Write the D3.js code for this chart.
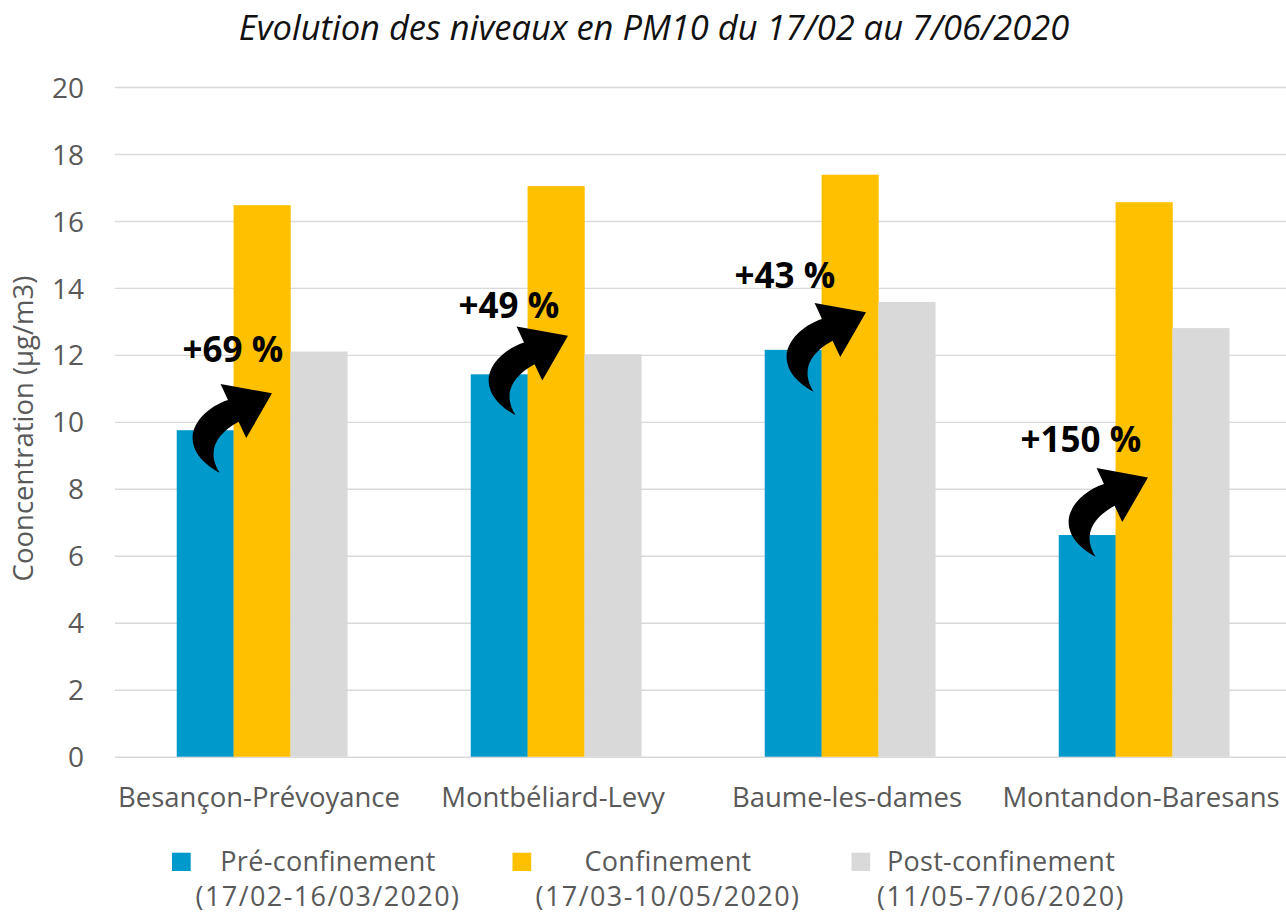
<!DOCTYPE html>
<html lang="fr">
<head>
<meta charset="utf-8">
<script src="https://cdn.jsdelivr.net/npm/d3@7"></script>
<style>
  html, body { margin: 0; padding: 0; background: #fff; }
  svg { display: block; font-family: "Open Sans", "DejaVu Sans", sans-serif; }
</style>
</head>
<body>
<svg id="chart" width="1286" height="913"></svg>
<script>
// Stations de mesure
const sites = ["Besançon-Prévoyance", "Montbéliard-Levy", "Baume-les-dames", "Montandon-Baresans"];

// Moyennes PM10 (µg/m3) par période
const preConfinement  = [9.75, 11.42, 12.15, 6.62];
const confinement     = [16.47, 17.04, 17.38, 16.56];
const postConfinement = [12.1, 12.02, 13.58, 12.8];

// Périodes (légende sur deux lignes)
const seriesNames  = ["Pré-confinement", "Confinement", "Post-confinement"];
const seriesDates  = ["(17/02-16/03/2020)", "(17/03-10/05/2020)", "(11/05-7/06/2020)"];
const seriesColors = ["#0099cc", "#ffc000", "#d9d9d9"];

const yTicks = [0, 2, 4, 6, 8, 10, 12, 14, 16, 18, 20];

const title = "Evolution des niveaux en PM10 du 17/02 au 7/06/2020";
const yTitle = "Cooncentration (µg/m3)";

// Placement des flèches de variation : ancrage de la queue par rapport au
// bord droit de la barre "pré-confinement" (px) et à sa valeur (µg/m3),
// puis décalage du libellé par rapport à la queue (px).
const arrowLayout = [
  { ax: -14, av: -1.27, tx: -37, ty: -111 },
  { ax: -12, av: -1.22, tx: -57, ty: -97 },
  { ax: -8,  av: -1.25, tx: -79, ty: -104 },
  { ax: -20, av: -0.65, tx: -75, ty: -105 }
];

const values = [preConfinement, confinement, postConfinement];
const rows = sites.map((s, i) => ({ site: s, vals: values.map(v => v[i]) }));

const svg = d3.select("#chart");
const W = 1286;

const x0 = d3.scaleBand().domain(sites).range([115, 1291])
  .paddingInner(0.42).paddingOuter(0.21);
const x1 = d3.scaleBand().domain(d3.range(seriesNames.length)).range([0, x0.bandwidth()]);
const y = d3.scaleLinear().domain([0, 20]).range([756.7, 87]);

// Quadrillage horizontal
const grid = svg.append("g")
  .attr("transform", "translate(115,0)")
  .call(d3.axisLeft(y).tickValues(yTicks).tickSize(-(W - 115)).tickFormat(""));
grid.select(".domain").remove();
grid.selectAll(".tick line").attr("stroke", "#d9d9d9").attr("stroke-width", 1.4);

// Graduations de l'axe Y
const yAxis = svg.append("g")
  .attr("transform", "translate(84,0)")
  .call(d3.axisLeft(y).tickValues(yTicks).tickSize(0).tickPadding(0));
yAxis.select(".domain").remove();
yAxis.selectAll(".tick text")
  .attr("font-family", "'Open Sans', sans-serif")
  .attr("font-size", 28)
  .attr("fill", "#595959")
  .attr("dy", "0.36em");

// Barres
const groups = svg.append("g").selectAll("g")
  .data(rows).join("g")
  .attr("transform", d => `translate(${x0(d.site)},0)`);
groups.selectAll("rect")
  .data(d => d.vals.map((v, k) => ({ v, k })))
  .join("rect")
  .attr("x", d => x1(d.k))
  .attr("width", x1.bandwidth() + 0.3)
  .attr("y", d => y(d.v))
  .attr("height", d => y(0) - y(d.v))
  .attr("fill", d => seriesColors[d.k]);

// Axe X (libellés des stations)
const xAxis = svg.append("g")
  .attr("transform", `translate(0,${y(0)})`)
  .call(d3.axisBottom(x0).tickSize(0).tickPadding(0));
xAxis.select(".domain").remove();
xAxis.selectAll(".tick text")
  .attr("font-family", "'Open Sans', sans-serif")
  .attr("font-size", 27.5)
  .attr("fill", "#595959")
  .attr("dy", null)
  .attr("y", 50)
  .attr("dx", -3);

// Flèches et pourcentages de hausse pendant le confinement
const arrowPath = "M0,0 C-15,-8 -27,-20 -27,-35 C-27,-50 -12,-66 8.4,-72.7 " +
  "L1,-88.7 L52.4,-79.4 L26.7,-34.7 L19,-51 C8,-45 -5,-35 -6,-20 C-6.5,-12 -3,-5 0,0 Z";
const ann = svg.append("g");
rows.forEach((d, i) => {
  const L = arrowLayout[i];
  const preRight = x0(d.site) + x1(0) + x1.bandwidth();
  const tx = preRight + L.ax;
  const ty = y(d.vals[0] + L.av);
  ann.append("path")
    .attr("d", arrowPath)
    .attr("transform", `translate(${tx},${ty})`)
    .attr("fill", "#000");
  const pct = Math.round((d.vals[1] / d.vals[0] - 1) * 100);
  ann.append("text")
    .attr("x", tx + L.tx)
    .attr("y", ty + L.ty)
    .attr("font-family", "'Open Sans', sans-serif")
    .attr("font-weight", 700)
    .attr("font-size", 35)
    .attr("fill", "#000")
    .text(`+${pct} %`);
});

// Titre
svg.append("text")
  .attr("x", 654).attr("y", 40)
  .attr("text-anchor", "middle")
  .attr("font-style", "italic")
  .attr("font-size", 34.5)
  .attr("fill", "#111")
  .text(title);

// Titre de l'axe Y
svg.append("text")
  .attr("transform", "translate(33,428.5) rotate(-90)")
  .attr("text-anchor", "middle")
  .attr("font-size", 27.5)
  .attr("fill", "#595959")
  .text(yTitle);

// Légende (libellé et période sur deux lignes)
const legendSquareX = [172, 512.5, 851.5];
const legendTextX = [328, 668, 1001];
const legend = svg.append("g");
seriesNames.forEach((name, k) => {
  legend.append("rect")
    .attr("x", legendSquareX[k]).attr("y", 852.7)
    .attr("width", 18.7).attr("height", 18.3)
    .attr("fill", seriesColors[k]);
  const t = legend.append("text")
    .attr("y", 870.7)
    .attr("text-anchor", "middle")
    .attr("font-size", 27)
    .attr("fill", "#595959");
  t.append("tspan")
    .attr("x", legendTextX[k])
    .attr("letter-spacing", 0.3)
    .text(name);
  t.append("tspan")
    .attr("x", legendTextX[k])
    .attr("dy", 35.2)
    .attr("letter-spacing", 1.4)
    .text(seriesDates[k]);
});
</script>
</body>
</html>
